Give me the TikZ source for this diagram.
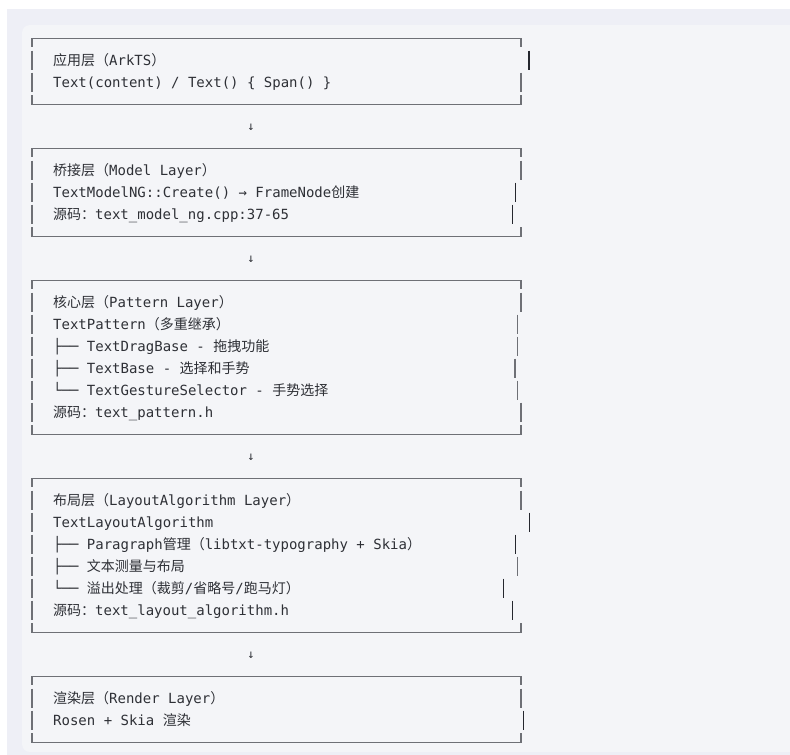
\documentclass[tikz,border=0pt]{standalone}
\usepackage{fontspec}
\setmainfont{DejaVu Sans Mono}
\newfontfamily\mono{DejaVu Sans Mono}
\newfontfamily\cjk{Noto Sans CJK SC}
\definecolor{bandc}{HTML}{EEEFF6}
\definecolor{panelc}{HTML}{F4F5F8}
\definecolor{linec}{HTML}{6E7076}
\definecolor{darkc}{HTML}{25272E}
\definecolor{txtc}{HTML}{2E3036}
\newcommand\boxfr[2]{%
  \draw[gline] (32,#1+8.5) -- (32,#1+0.5) -- (521,#1+0.5) -- (521,#1+8.5);
  \draw[gline] (32,#2-9) -- (32,#2+0.5) -- (521,#2+0.5) -- (521,#2-9);}
\newcommand\Lb[1]{\draw[gbar] (32,#1-9.5) -- (32,#1+9.5);}
\newcommand\Rg[2]{\draw[gbar] (#1,#2-9.5) -- (#1,#2+9.5);}
\newcommand\Rd[2]{\draw[dbar] (#1,#2-9.5) -- (#1,#2+9.5);}
\begin{document}
\begin{tikzpicture}[x=1pt,y=-1pt,
  txt/.style={anchor=base west,inner sep=0pt,font=\mono\fontsize{14}{16}\selectfont,text=txtc},
  arr/.style={anchor=center,inner sep=0pt,font=\mono\fontsize{12}{14}\selectfont,text=txtc},
  gline/.style={draw=linec,line width=1.3pt},
  gbar/.style={draw=linec,line width=1.4pt},
  dbar/.style={draw=darkc,line width=1.1pt}]
\useasboundingbox (0,0) rectangle (790,755);
\fill[white] (0,0) rectangle (790,755);
\fill[bandc] (7,9) rectangle (790,755);
\fill[panelc, rounded corners=8pt] (22,25) rectangle (810,752);
% box 1
\boxfr{38}{104}
\Lb{60}\Lb{82}
\Rd{529}{60}\Rg{521}{82}
\node[txt] (b1a) at (53,65) {{\cjk 应用层（}ArkTS{\cjk ）}};
\node[txt] (b1b) at (53,87) {Text(content) / Text() \{ Span() \}};
\node[arr] (a1) at (251,127) {↓};
% box 2
\boxfr{148}{236}
\Lb{170}\Lb{192}\Lb{214}
\Rg{521}{170}\Rd{515.3}{192}\Rd{512.3}{214}
\node[txt] (b2a) at (53,175) {{\cjk 桥接层（}Model Layer{\cjk ）}};
\node[txt] (b2b) at (53,197) {TextModelNG::Create() → FrameNode{\cjk 创建}};
\node[txt] (b2c) at (53,219) {{\cjk 源码：}text\_model\_ng.cpp:37-65};
\node[arr] (a2) at (251,259) {↓};
% box 3
\boxfr{280}{434}
\Lb{302}\Lb{324}\Lb{346}\Lb{368}\Lb{390}\Lb{412}
\Rg{521}{302}\Rg{517.7}{324}\Rg{517.7}{346}\Rg{515}{368}\Rg{517.7}{390}\Rg{521}{412}
\node[txt] (b3a) at (53,307) {{\cjk 核心层（}Pattern Layer{\cjk ）}};
\node[txt] (b3b) at (53,329) {TextPattern{\cjk （多重继承）}};
\node[txt] (b3c) at (53,351) {├── TextDragBase - {\cjk 拖拽功能}};
\node[txt] (b3d) at (53,373) {├── TextBase - {\cjk 选择和手势}};
\node[txt] (b3e) at (53,395) {└── TextGestureSelector - {\cjk 手势选择}};
\node[txt] (b3f) at (53,417) {{\cjk 源码：}text\_pattern.h};
\node[arr] (a3) at (251,457) {↓};
% box 4
\boxfr{478}{632}
\Lb{500}\Lb{522}\Lb{544}\Lb{566}\Lb{588}\Lb{610}
\Rg{521}{500}\Rd{529.3}{522}\Rd{515.3}{544}\Rg{517.7}{566}\Rd{503.7}{588}\Rd{512.3}{610}
\node[txt] (b4a) at (53,505) {{\cjk 布局层（}LayoutAlgorithm Layer{\cjk ）}};
\node[txt] (b4b) at (53,527) {TextLayoutAlgorithm};
\node[txt] (b4c) at (53,549) {├── Paragraph{\cjk 管理（}libtxt-typography + Skia{\cjk ）}};
\node[txt] (b4d) at (53,571) {├── {\cjk 文本测量与布局}};
\node[txt] (b4e) at (53,593) {└── {\cjk 溢出处理（裁剪}/{\cjk 省略号}/{\cjk 跑马灯）}};
\node[txt] (b4f) at (53,615) {{\cjk 源码：}text\_layout\_algorithm.h};
\node[arr] (a4) at (251,655) {↓};
% box 5
\boxfr{676}{742}
\Lb{698}\Lb{720}
\Rg{521}{698}\Rd{523.3}{720}
\node[txt] (b5a) at (53,703) {{\cjk 渲染层（}Render Layer{\cjk ）}};
\node[txt] (b5b) at (53,725) {Rosen + Skia {\cjk 渲染}};
\end{tikzpicture}
\end{document}
